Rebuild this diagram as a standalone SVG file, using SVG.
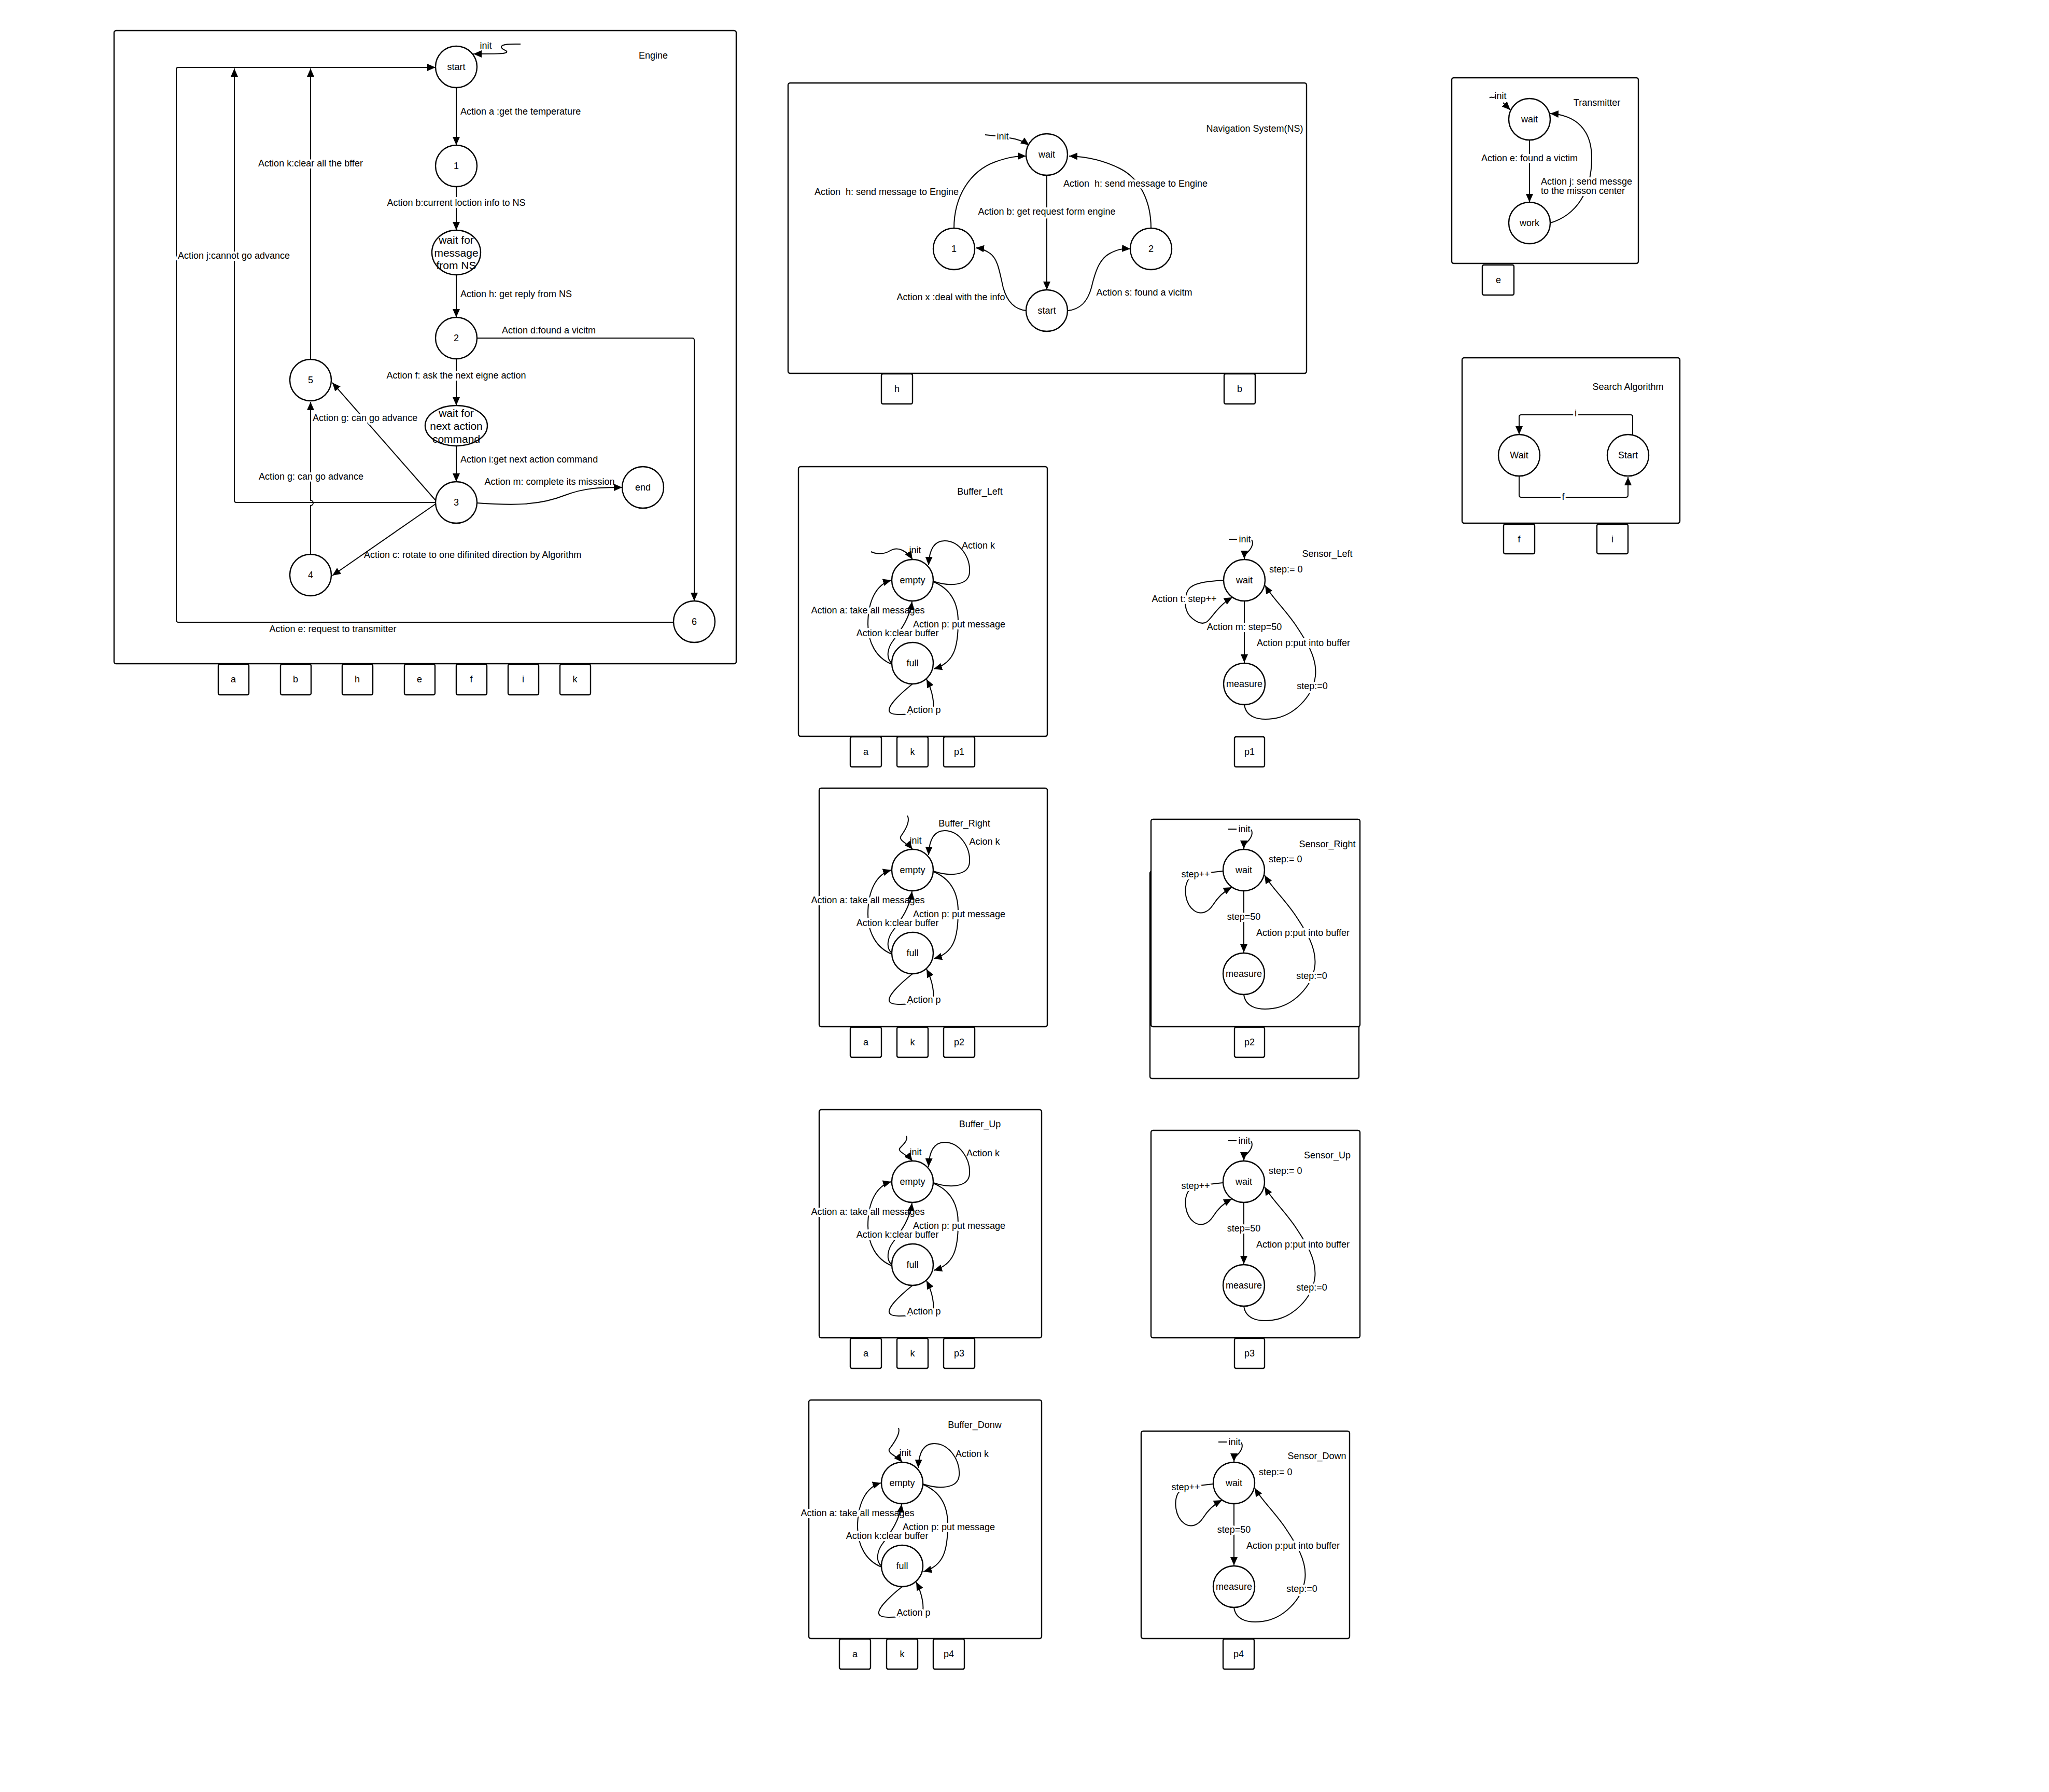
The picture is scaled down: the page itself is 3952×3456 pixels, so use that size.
<svg xmlns="http://www.w3.org/2000/svg" width="3952" height="3456" viewBox="0 0 3952 3456">
<style>
text { font-family: "Liberation Sans", Arial, sans-serif; font-size: 18px; fill: #000; dominant-baseline: central; }
.m { text-anchor: middle; }
.h { stroke: #fff; stroke-width: 8px; stroke-linejoin: round; paint-order: stroke fill; }
.big { font-size: 21px; }
.box { fill: #fff; stroke: #000; stroke-width: 2.4; }
.st { fill: #fff; stroke: #000; stroke-width: 2.4; }
.port { fill: #fff; stroke: #000; stroke-width: 2.4; }
.e { fill: none; stroke: #000; stroke-width: 2; marker-end: url(#ah); }
.ln { fill: none; stroke: #000; stroke-width: 2; }
</style>
<defs>
<marker id="ah" markerUnits="userSpaceOnUse" markerWidth="18" markerHeight="14" refX="16" refY="7" orient="auto"><path d="M0,0 L16,7 L0,14 z" fill="#000"/></marker>
</defs>
<rect width="3952" height="3456" fill="#fff"/>

<g id="containers">
<g id="engine"><rect class="box" x="220" y="59" width="1200" height="1221" rx="4"/><text class="m" x="1260" y="107">Engine</text></g>
<g id="ns"><rect class="box" x="1520" y="160" width="1000" height="560" rx="4"/><text class="m" x="2420" y="248">Navigation System(NS)</text></g>
<g id="transmitter"><rect class="box" x="2800" y="150" width="360" height="358" rx="4"/><text class="m" x="3080" y="198">Transmitter</text></g>
<g id="search"><rect class="box" x="2820" y="690" width="420" height="319" rx="4"/><text class="m" x="3140" y="746">Search Algorithm</text></g>
<g id="buffer-left"><rect class="box" x="1540" y="900" width="480" height="520" rx="4"/><text class="m" x="1890" y="948">Buffer_Left</text></g>
<g id="buffer-right"><rect class="box" x="1580" y="1520" width="440" height="460" rx="4"/><text class="m" x="1860" y="1588">Buffer_Right</text></g>
<g id="buffer-up"><rect class="box" x="1580" y="2140" width="429" height="440" rx="4"/><text class="m" x="1890" y="2168">Buffer_Up</text></g>
<g id="buffer-down"><rect class="box" x="1560" y="2700" width="449" height="460" rx="4"/><text class="m" x="1880" y="2748">Buffer_Donw</text></g>
<g id="sensor-left"><text class="m" x="2560" y="1068">Sensor_Left</text></g>
<g id="sensor-right"><rect class="box" x="2218" y="1680" width="403" height="400" rx="4"/><rect class="box" x="2220" y="1580" width="403" height="400" rx="4"/><text class="m" x="2560" y="1628">Sensor_Right</text></g>
<g id="sensor-up"><rect class="box" x="2220" y="2180" width="403" height="400" rx="4"/><text class="m" x="2560" y="2228">Sensor_Up</text></g>
<g id="sensor-down"><rect class="box" x="2201" y="2760" width="402" height="400" rx="4"/><text class="m" x="2540" y="2808">Sensor_Down</text></g>
</g>

<g id="connectors">
<g id="engine-edges">
<path class="e" d="M1004,85 C990,85 968,84 967,90 C966,96 980,97 977,101 C974,104 955,104 913,104"/>
<text class="m" x="937" y="88">init</text>
<path class="e" d="M1299,1200 L344,1200 Q340,1200 340,1196 L340,134 Q340,130 344,130 L840,130"/>
<text class="m" x="642" y="1213">Action e: request to transmitter</text>
<path class="e" d="M880,169 L880,280"/>
<text x="888" y="215">Action a :get the temperature</text>
<path class="e" d="M880,360 L880,444"/>
<text class="m h" x="880" y="391">Action b:current loction info to NS</text>
<path class="e" d="M880,530 L880,612"/>
<text x="888" y="567">Action h: get reply from NS</text>
<path class="e" d="M920,652 L1335,652 Q1339,652 1339,656 L1339,1159"/>
<text x="968" y="637">Action d:found a vicitm</text>
<path class="e" d="M880,692 L880,782"/>
<text class="m h" x="880" y="724">Action f: ask the next eigne action</text>
<path class="e" d="M880,860 L880,929"/>
<text x="888" y="886">Action i:get next action command</text>
<path class="e" d="M920,970 C990,975 1040,975 1090,955 C1130,940 1160,940 1200,940"/>
<text class="m" x="1060" y="929">Action m: complete its misssion</text>
<path class="e" d="M841,966 L641,738"/>
<text class="h" x="603" y="806">Action g: can go advance</text>
<path class="e" d="M840,969 L456,969 Q452,969 452,965 L452,132"/>
<text class="m h" x="451" y="493">Action j:cannot go advance</text>
<path class="e" d="M840,972 L641,1110"/>
<text x="702" y="1070">Action c: rotate to one difinited direction by Algorithm</text>
<path class="e" d="M599,1069 L599,975 A5,5 0 0 0 599,965 L599,775"/>
<text class="m h" x="600" y="919">Action g: can go advance</text>
<path class="e" d="M599,693 L599,132"/>
<text class="m h" x="599" y="315">Action k:clear all the bffer</text>
</g>

<g id="ns-edges">
<path class="e" d="M1900,260 L1920,262 M1947,266 C1962,268 1975,273 1985,280"/>
<text class="m" x="1934" y="263">init</text>
<path class="e" d="M2019,338 L2019,559"/>
<text class="m h" x="2019" y="408">Action b: get request form engine</text>
<path class="e" d="M1840,440 C1840,380 1870,330 1920,312 C1945,303 1960,301 1979,301"/>
<text class="m" x="1710" y="370" xml:space="preserve">Action  h: send message to Engine</text>
<path class="e" d="M2220,440 C2220,390 2200,345 2160,325 C2130,310 2100,302 2062,301"/>
<text class="m h" x="2190" y="354" xml:space="preserve">Action  h: send message to Engine</text>
<path class="e" d="M1980,599 C1955,597 1942,580 1935,555 C1928,525 1925,500 1910,489 C1900,482 1892,479 1882,478"/>
<text class="m" x="1834" y="573">Action x :deal with the info</text>
<path class="e" d="M2059,599 C2085,597 2098,580 2105,555 C2112,525 2120,500 2140,489 C2155,481 2165,479 2180,480"/>
<text class="m" x="2207" y="564">Action s: found a vicitm</text>
</g>

<g id="transmitter-edges">
<path class="ln" d="M2873,189 C2876,185 2879,190 2883,187"/>
<path class="e" d="M2899,198 L2913,212"/>
<text class="m" x="2894" y="185">init</text>
<path class="e" d="M2950,270 L2950,390"/>
<text class="m h" x="2950" y="305">Action e: found a victim</text>
<path class="e" d="M2990,430 C3040,415 3070,370 3070,305 C3070,250 3040,222 2990,219"/>
<text class="h" x="2972" y="350">Action j: send messge</text>
<text class="h" x="2972" y="368">to the misson center</text>
</g>

<g id="search-edges">
<path class="e" d="M3149,840 L3149,804 Q3149,800 3145,800 L2934,800 Q2930,800 2930,804 L2930,838"/>
<text class="m h" x="3039" y="797">i</text>
<path class="e" d="M2930,918 L2930,955 Q2930,959 2934,959 L3136,959 Q3140,959 3140,955 L3140,920"/>
<text class="m h" x="3015" y="958">f</text>
</g>

<g id="buffer-left-edges" transform="translate(1760,1119)">
<path class="e" d="M-80,-55 C-70,-50 -55,-50 -45,-56 C-37,-61 -28,-62 -20,-58 C-12,-54 -5,-48 0,-40"/>
<text class="m" x="5" y="-58">init</text>
<path class="e" d="M40,2 C70,12 108,12 110,-15 C112,-45 90,-76 62,-76 C40,-76 32,-55 31,-29"/>
<text class="m" x="127" y="-67">Action k</text>
<path class="e" d="M40,3 C70,15 88,40 88,80 C88,130 80,160 41,171"/>
<text class="m h" x="90" y="85">Action p: put message</text>
<path class="e" d="M-40,162 C-70,150 -86,120 -86,85 C-86,40 -70,8 -41,0"/>
<text class="m h" x="-86" y="58">Action a: take all messages</text>
<path class="e" d="M-40,160 C-52,150 -48,130 -37,116 C-22,95 -5,72 -1,41"/>
<text class="m h" x="-29" y="102">Action k:clear buffer</text>
<path class="e" d="M0,200 C-25,220 -55,248 -42,256 C-32,262 -5,257 20,257 L38,255 C44,240 38,212 27,191"/>
<text class="m h" x="22" y="250">Action p</text>
</g>

<g id="buffer-right-edges" transform="translate(1760,1678)">
<path class="e" d="M-10,-105 C-4,-95 -12,-80 -22,-66 C-28,-57 -10,-52 0,-40"/>
<text class="m" x="6" y="-57">init</text>
<path class="e" d="M40,2 C70,12 108,12 110,-15 C112,-45 90,-76 62,-76 C40,-76 32,-55 31,-29"/>
<text class="m" x="139" y="-55">Acion k</text>
<path class="e" d="M40,3 C70,15 88,40 88,80 C88,130 80,160 41,171"/>
<text class="m h" x="90" y="85">Action p: put message</text>
<path class="e" d="M-40,162 C-70,150 -86,120 -86,85 C-86,40 -70,8 -41,0"/>
<text class="m h" x="-86" y="58">Action a: take all messages</text>
<path class="e" d="M-40,160 C-52,150 -48,130 -37,116 C-22,95 -5,72 -1,41"/>
<text class="m h" x="-29" y="102">Action k:clear buffer</text>
<path class="e" d="M0,200 C-25,220 -55,248 -42,256 C-32,262 -5,257 20,257 L38,255 C44,240 38,212 27,191"/>
<text class="m h" x="22" y="250">Action p</text>
</g>

<g id="buffer-up-edges" transform="translate(1760,2279)">
<path class="e" d="M-12,-88 C-8,-80 -18,-72 -25,-64 C-28,-57 -10,-52 0,-40"/>
<text class="m" x="6" y="-57">init</text>
<path class="e" d="M40,2 C70,12 108,12 110,-15 C112,-45 90,-76 62,-76 C40,-76 32,-55 31,-29"/>
<text class="m" x="136" y="-55">Action k</text>
<path class="e" d="M40,3 C70,15 88,40 88,80 C88,130 80,160 41,171"/>
<text class="m h" x="90" y="85">Action p: put message</text>
<path class="e" d="M-40,162 C-70,150 -86,120 -86,85 C-86,40 -70,8 -41,0"/>
<text class="m h" x="-86" y="58">Action a: take all messages</text>
<path class="e" d="M-40,160 C-52,150 -48,130 -37,116 C-22,95 -5,72 -1,41"/>
<text class="m h" x="-29" y="102">Action k:clear buffer</text>
<path class="e" d="M0,200 C-25,220 -55,248 -42,256 C-32,262 -5,257 20,257 L38,255 C44,240 38,212 27,191"/>
<text class="m h" x="22" y="250">Action p</text>
</g>

<g id="buffer-down-edges" transform="translate(1740,2860)">
<path class="e" d="M-7,-106 C-3,-96 -15,-78 -25,-65 C-28,-57 -10,-52 0,-40"/>
<text class="m" x="6" y="-58">init</text>
<path class="e" d="M40,2 C70,12 108,12 110,-15 C112,-45 90,-76 62,-76 C40,-76 32,-55 31,-29"/>
<text class="m" x="135" y="-56">Action k</text>
<path class="e" d="M40,3 C70,15 88,40 88,80 C88,130 80,160 41,171"/>
<text class="m h" x="90" y="85">Action p: put message</text>
<path class="e" d="M-40,162 C-70,150 -86,120 -86,85 C-86,40 -70,8 -41,0"/>
<text class="m h" x="-86" y="58">Action a: take all messages</text>
<path class="e" d="M-40,160 C-52,150 -48,130 -37,116 C-22,95 -5,72 -1,41"/>
<text class="m h" x="-29" y="102">Action k:clear buffer</text>
<path class="e" d="M0,200 C-25,220 -55,248 -42,256 C-32,262 -5,257 20,257 L38,255 C44,240 38,212 27,191"/>
<text class="m h" x="22" y="250">Action p</text>
</g>

<g id="sensor-left-edges" transform="translate(2400,1119)">
<path class="e" d="M-30,-79 L-14,-79 M14,-78 C18,-72 15,-64 10,-58 C5,-52 0,-50 0,-41"/>
<text class="m" x="1" y="-79">init</text>
<text x="48" y="-21">step:= 0</text>
<path class="e" d="M-40,0 C-75,2 -100,6 -108,18 C-118,35 -116,62 -100,74 C-90,82 -80,86 -72,80 C-62,72 -50,48 -23,33"/>
<text class="m h" x="-116" y="36">Action t: step++</text>
<path class="e" d="M0,40 L0,159"/>
<text class="m h" x="0" y="90">Action m: step=50</text>
<path class="e" d="M0,240 C3,263 25,271 55,267 C95,262 132,225 137,185 C141,150 120,118 100,88 C80,58 55,35 40,10"/>
<text class="m h" x="114" y="121">Action p:put into buffer</text>
<text class="m h" x="131" y="204">step:=0</text>
</g>

<g id="sensor-right-edges" transform="translate(2399,1678)">
<path class="e" d="M-30,-79 L-14,-79 M14,-78 C18,-72 15,-64 10,-58 C5,-52 0,-50 0,-41"/>
<text class="m" x="1" y="-79">init</text>
<text x="48" y="-21">step:= 0</text>
<path class="e" d="M-40,2 C-70,5 -100,8 -108,20 C-116,35 -114,65 -96,78 C-82,88 -68,80 -60,68 C-52,55 -40,42 -23,33"/>
<text class="m h" x="-93" y="8">step++</text>
<path class="e" d="M0,40 L0,159"/>
<text class="m h" x="0" y="90">step=50</text>
<path class="e" d="M0,240 C3,263 25,271 55,267 C95,262 132,225 137,185 C141,150 120,118 100,88 C80,58 55,35 40,10"/>
<text class="m h" x="114" y="121">Action p:put into buffer</text>
<text class="m h" x="131" y="204">step:=0</text>
</g>

<g id="sensor-up-edges" transform="translate(2399,2279)">
<path class="e" d="M-30,-79 L-14,-79 M14,-78 C18,-72 15,-64 10,-58 C5,-52 0,-50 0,-41"/>
<text class="m" x="1" y="-79">init</text>
<text x="48" y="-21">step:= 0</text>
<path class="e" d="M-40,2 C-70,5 -100,8 -108,20 C-116,35 -114,65 -96,78 C-82,88 -68,80 -60,68 C-52,55 -40,42 -23,33"/>
<text class="m h" x="-93" y="8">step++</text>
<path class="e" d="M0,40 L0,159"/>
<text class="m h" x="0" y="90">step=50</text>
<path class="e" d="M0,240 C3,263 25,271 55,267 C95,262 132,225 137,185 C141,150 120,118 100,88 C80,58 55,35 40,10"/>
<text class="m h" x="114" y="121">Action p:put into buffer</text>
<text class="m h" x="131" y="204">step:=0</text>
</g>

<g id="sensor-down-edges" transform="translate(2380,2860)">
<path class="e" d="M-30,-79 L-14,-79 M14,-78 C18,-72 15,-64 10,-58 C5,-52 0,-50 0,-41"/>
<text class="m" x="1" y="-79">init</text>
<text x="48" y="-21">step:= 0</text>
<path class="e" d="M-40,2 C-70,5 -100,8 -108,20 C-116,35 -114,65 -96,78 C-82,88 -68,80 -60,68 C-52,55 -40,42 -23,33"/>
<text class="m h" x="-93" y="8">step++</text>
<path class="e" d="M0,40 L0,159"/>
<text class="m h" x="0" y="90">step=50</text>
<path class="e" d="M0,240 C3,263 25,271 55,267 C95,262 132,225 137,185 C141,150 120,118 100,88 C80,58 55,35 40,10"/>
<text class="m h" x="114" y="121">Action p:put into buffer</text>
<text class="m h" x="131" y="204">step:=0</text>
</g>
</g>

<g id="nodes">
<g id="engine-start"><circle class="st" cx="880" cy="129" r="40"/><text class="m" x="880" y="129">start</text></g>
<g id="engine-1"><circle class="st" cx="880" cy="320" r="40"/><text class="m" x="880" y="320">1</text></g>
<g id="engine-wait-msg"><ellipse class="st" cx="880" cy="487" rx="47" ry="43"/><text class="m big" x="880"><tspan x="880" y="462">wait for</tspan><tspan x="880" y="487">message</tspan><tspan x="880" y="511">from NS</tspan></text></g>
<g id="engine-2"><circle class="st" cx="880" cy="652" r="40"/><text class="m" x="880" y="652">2</text></g>
<g id="engine-wait-cmd"><ellipse class="st" cx="880" cy="821" rx="60" ry="39"/><text class="m big" x="880"><tspan x="880" y="796">wait for</tspan><tspan x="880" y="821">next action</tspan><tspan x="880" y="846">command</tspan></text></g>
<g id="engine-3"><circle class="st" cx="880" cy="969" r="40"/><text class="m" x="880" y="969">3</text></g>
<g id="engine-end"><circle class="st" cx="1240" cy="940" r="40"/><text class="m" x="1240" y="940">end</text></g>
<g id="engine-5"><circle class="st" cx="599" cy="733" r="40"/><text class="m" x="599" y="733">5</text></g>
<g id="engine-4"><circle class="st" cx="599" cy="1109" r="40"/><text class="m" x="599" y="1109">4</text></g>
<g id="engine-6"><circle class="st" cx="1339" cy="1199" r="40"/><text class="m" x="1339" y="1199">6</text></g>

<g id="ns-wait"><circle class="st" cx="2019" cy="298" r="40"/><text class="m" x="2019" y="298">wait</text></g>
<g id="ns-1"><circle class="st" cx="1840" cy="480" r="40"/><text class="m" x="1840" y="480">1</text></g>
<g id="ns-2"><circle class="st" cx="2220" cy="480" r="40"/><text class="m" x="2220" y="480">2</text></g>
<g id="ns-start"><circle class="st" cx="2019" cy="599" r="40"/><text class="m" x="2019" y="599">start</text></g>

<g id="tx-wait"><circle class="st" cx="2950" cy="230" r="40"/><text class="m" x="2950" y="230">wait</text></g>
<g id="tx-work"><circle class="st" cx="2950" cy="430" r="40"/><text class="m" x="2950" y="430">work</text></g>

<g id="sa-wait"><circle class="st" cx="2930" cy="878" r="40"/><text class="m" x="2930" y="878">Wait</text></g>
<g id="sa-start"><circle class="st" cx="3140" cy="878" r="40"/><text class="m" x="3140" y="878">Start</text></g>

<g id="bl-empty"><circle class="st" cx="1760" cy="1119" r="40"/><text class="m" x="1760" y="1119">empty</text></g>
<g id="bl-full"><circle class="st" cx="1760" cy="1279" r="40"/><text class="m" x="1760" y="1279">full</text></g>
<g id="br-empty"><circle class="st" cx="1760" cy="1678" r="40"/><text class="m" x="1760" y="1678">empty</text></g>
<g id="br-full"><circle class="st" cx="1760" cy="1838" r="40"/><text class="m" x="1760" y="1838">full</text></g>
<g id="bu-empty"><circle class="st" cx="1760" cy="2279" r="40"/><text class="m" x="1760" y="2279">empty</text></g>
<g id="bu-full"><circle class="st" cx="1760" cy="2439" r="40"/><text class="m" x="1760" y="2439">full</text></g>
<g id="bd-empty"><circle class="st" cx="1740" cy="2860" r="40"/><text class="m" x="1740" y="2860">empty</text></g>
<g id="bd-full"><circle class="st" cx="1740" cy="3020" r="40"/><text class="m" x="1740" y="3020">full</text></g>

<g id="sl-wait"><circle class="st" cx="2400" cy="1119" r="40"/><text class="m" x="2400" y="1119">wait</text></g>
<g id="sl-measure"><circle class="st" cx="2400" cy="1319" r="40"/><text class="m" x="2400" y="1319">measure</text></g>
<g id="sr-wait"><circle class="st" cx="2399" cy="1678" r="40"/><text class="m" x="2399" y="1678">wait</text></g>
<g id="sr-measure"><circle class="st" cx="2399" cy="1878" r="40"/><text class="m" x="2399" y="1878">measure</text></g>
<g id="su-wait"><circle class="st" cx="2399" cy="2279" r="40"/><text class="m" x="2399" y="2279">wait</text></g>
<g id="su-measure"><circle class="st" cx="2399" cy="2479" r="40"/><text class="m" x="2399" y="2479">measure</text></g>
<g id="sd-wait"><circle class="st" cx="2380" cy="2860" r="40"/><text class="m" x="2380" y="2860">wait</text></g>
<g id="sd-measure"><circle class="st" cx="2380" cy="3060" r="40"/><text class="m" x="2380" y="3060">measure</text></g>
</g>

<g id="ports">
<g id="port-eng-a"><rect class="port" x="421" y="1281" width="59" height="59" rx="3"/><text class="m" x="450" y="1310">a</text></g>
<g id="port-eng-b"><rect class="port" x="541" y="1281" width="59" height="59" rx="3"/><text class="m" x="570" y="1310">b</text></g>
<g id="port-eng-h"><rect class="port" x="660" y="1281" width="59" height="59" rx="3"/><text class="m" x="689" y="1310">h</text></g>
<g id="port-eng-e"><rect class="port" x="780" y="1281" width="59" height="59" rx="3"/><text class="m" x="809" y="1310">e</text></g>
<g id="port-eng-f"><rect class="port" x="880" y="1281" width="59" height="59" rx="3"/><text class="m" x="909" y="1310">f</text></g>
<g id="port-eng-i"><rect class="port" x="980" y="1281" width="59" height="59" rx="3"/><text class="m" x="1009" y="1310">i</text></g>
<g id="port-eng-k"><rect class="port" x="1080" y="1281" width="59" height="59" rx="3"/><text class="m" x="1109" y="1310">k</text></g>
<g id="port-ns-h"><rect class="port" x="1700" y="721" width="60" height="58" rx="3"/><text class="m" x="1730" y="750">h</text></g>
<g id="port-ns-b"><rect class="port" x="2361" y="721" width="60" height="58" rx="3"/><text class="m" x="2391" y="750">b</text></g>
<g id="port-tx-e"><rect class="port" x="2859" y="511" width="61" height="58" rx="3"/><text class="m" x="2890" y="540">e</text></g>
<g id="port-sa-f"><rect class="port" x="2900" y="1011" width="60" height="57" rx="3"/><text class="m" x="2930" y="1040">f</text></g>
<g id="port-sa-i"><rect class="port" x="3080" y="1011" width="60" height="57" rx="3"/><text class="m" x="3110" y="1040">i</text></g>
<g id="port-bl-a"><rect class="port" x="1640" y="1421" width="60" height="58" rx="3"/><text class="m" x="1670" y="1450">a</text></g>
<g id="port-bl-k"><rect class="port" x="1730" y="1421" width="60" height="58" rx="3"/><text class="m" x="1760" y="1450">k</text></g>
<g id="port-bl-p1"><rect class="port" x="1820" y="1421" width="60" height="58" rx="3"/><text class="m" x="1850" y="1450">p1</text></g>
<g id="port-sl-p1"><rect class="port" x="2381" y="1421" width="58" height="58" rx="3"/><text class="m" x="2410" y="1450">p1</text></g>
<g id="port-br-a"><rect class="port" x="1640" y="1981" width="60" height="58" rx="3"/><text class="m" x="1670" y="2010">a</text></g>
<g id="port-br-k"><rect class="port" x="1730" y="1981" width="60" height="58" rx="3"/><text class="m" x="1760" y="2010">k</text></g>
<g id="port-br-p2"><rect class="port" x="1820" y="1981" width="60" height="58" rx="3"/><text class="m" x="1850" y="2010">p2</text></g>
<g id="port-sr-p2"><rect class="port" x="2381" y="1981" width="58" height="58" rx="3"/><text class="m" x="2410" y="2010">p2</text></g>
<g id="port-bu-a"><rect class="port" x="1640" y="2581" width="60" height="58" rx="3"/><text class="m" x="1670" y="2610">a</text></g>
<g id="port-bu-k"><rect class="port" x="1730" y="2581" width="60" height="58" rx="3"/><text class="m" x="1760" y="2610">k</text></g>
<g id="port-bu-p3"><rect class="port" x="1820" y="2581" width="60" height="58" rx="3"/><text class="m" x="1850" y="2610">p3</text></g>
<g id="port-su-p3"><rect class="port" x="2381" y="2581" width="58" height="58" rx="3"/><text class="m" x="2410" y="2610">p3</text></g>
<g id="port-bd-a"><rect class="port" x="1619" y="3161" width="60" height="58" rx="3"/><text class="m" x="1649" y="3190">a</text></g>
<g id="port-bd-k"><rect class="port" x="1710" y="3161" width="60" height="58" rx="3"/><text class="m" x="1740" y="3190">k</text></g>
<g id="port-bd-p4"><rect class="port" x="1800" y="3161" width="60" height="58" rx="3"/><text class="m" x="1830" y="3190">p4</text></g>
<g id="port-sd-p4"><rect class="port" x="2359" y="3161" width="60" height="58" rx="3"/><text class="m" x="2389" y="3190">p4</text></g>
</g>
</svg>
